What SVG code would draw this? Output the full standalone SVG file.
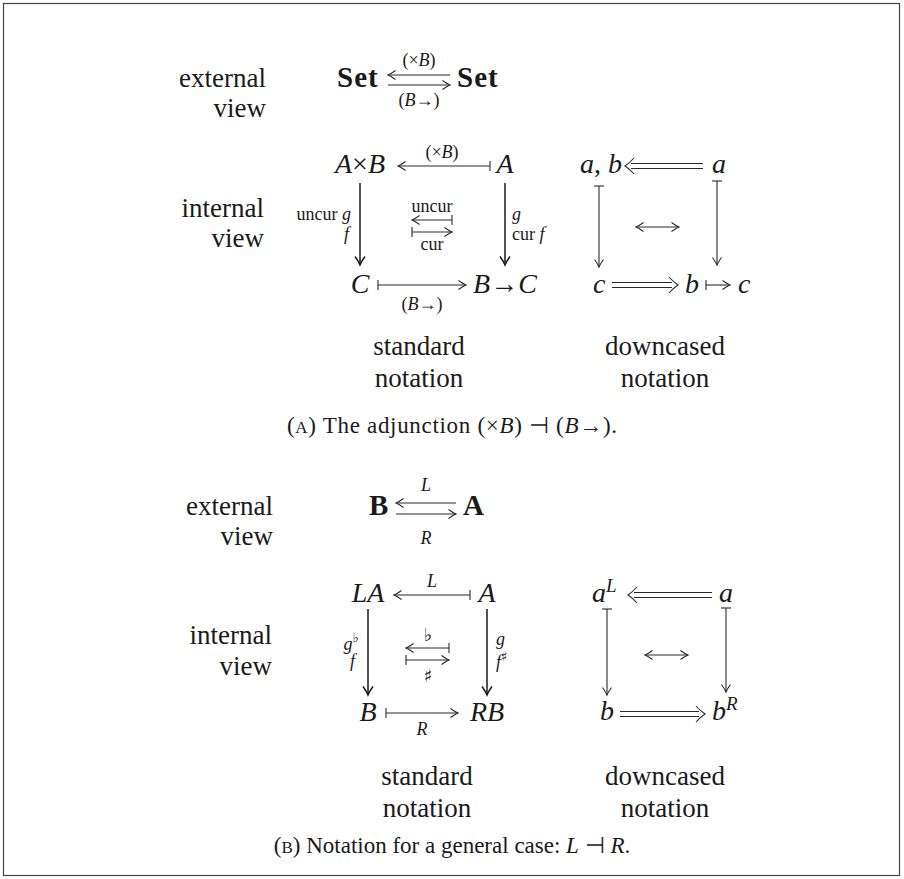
<svg xmlns="http://www.w3.org/2000/svg" width="904" height="879" viewBox="0 0 904 879">
<style>
text{font-family:"Liberation Serif","Times New Roman",serif;fill:#1a1a1a}
.t{font-size:27px}
.m{font-size:28px;font-style:italic}
.b{font-size:29px;font-weight:bold}
.s{font-size:18px}
.i{font-style:italic}
.mus{font-family:"DejaVu Sans",sans-serif;fill:#1a1a1a}
.cap{font-size:23px}
.ln{stroke:#2a2a2a;stroke-width:1.1;fill:none}
.lnb{stroke:#1a1a1a;stroke-width:1.5;fill:none}
.frame{fill:#fff;stroke:#444;stroke-width:1.2}
</style>
<defs>
<marker id="h" markerUnits="userSpaceOnUse" viewBox="-10 -7 12 14" refX="0" refY="0" markerWidth="12" markerHeight="14" orient="auto-start-reverse" overflow="visible"><path d="M-7.5,-4.5 Q-3,-1.2 0,0 Q-3,1.2 -7.5,4.5" fill="none" stroke="#2a2a2a" stroke-width="1.1"/></marker>
<marker id="hb" markerUnits="userSpaceOnUse" viewBox="-10 -7 12 14" refX="0" refY="0" markerWidth="12" markerHeight="14" orient="auto-start-reverse" overflow="visible"><path d="M-8.5,-5 Q-3.5,-1.4 0,0 Q-3.5,1.4 -8.5,5" fill="none" stroke="#1a1a1a" stroke-width="1.5"/></marker>
<marker id="bar" markerUnits="userSpaceOnUse" viewBox="-2 -7 4 14" refX="0" refY="0" markerWidth="4" markerHeight="14" orient="auto" overflow="visible"><path d="M0,-5 L0,5" stroke="#2a2a2a" stroke-width="1.1"/></marker>
</defs>
<rect class="frame" x="3.5" y="3.5" width="896" height="872"/>

<!-- ===== (A) ===== -->
<g id="a-ext-label"><text class="t" text-anchor="end" x="266" y="87">external</text><text class="t" text-anchor="end" x="266" y="117">view</text></g>
<g id="a-set1"><text class="b" x="337" y="87" letter-spacing="1">Set</text></g>
<g id="a-set2"><text class="b" x="457" y="87" letter-spacing="1">Set</text></g>
<g id="a-ext-labels"><text class="s" text-anchor="middle" x="419" y="66">(×<tspan class="i">B</tspan>)</text><text class="s" text-anchor="middle" x="419" y="106">(<tspan class="i">B</tspan>→)</text></g>

<g id="a-int-label"><text class="t" text-anchor="end" x="264" y="217">internal</text><text class="t" text-anchor="end" x="264" y="247">view</text></g>
<g id="a-AxB"><text class="m" text-anchor="middle" x="360" y="173">A<tspan font-style="normal">×</tspan>B</text></g>
<g id="a-A"><text class="m" text-anchor="middle" x="505" y="173">A</text></g>
<g id="a-C"><text class="m" text-anchor="middle" x="360" y="293">C</text></g>
<g id="a-BtoC"><text class="m" text-anchor="middle" x="505" y="293">B<tspan font-style="normal">→</tspan>C</text></g>
<g id="a-labels">
<text class="s" text-anchor="middle" x="442" y="158">(×<tspan class="i">B</tspan>)</text>
<text class="s" text-anchor="end" x="351" y="220">uncur <tspan class="i">g</tspan></text>
<text class="s i" text-anchor="end" x="349" y="240">f</text>
<text class="s i" x="512" y="220">g</text>
<text class="s" x="512" y="240">cur <tspan class="i">f</tspan></text>
<text class="s" text-anchor="middle" x="432" y="212">uncur</text>
<text class="s" text-anchor="middle" x="432" y="250">cur</text>
<text class="s" text-anchor="middle" x="422" y="310">(<tspan class="i">B</tspan>→)</text>
</g>
<g id="a-std-caption"><text class="t" text-anchor="middle" x="419" y="355">standard</text><text class="t" text-anchor="middle" x="419" y="387">notation</text></g>

<g id="a-ab"><text class="m" x="580" y="173">a<tspan font-style="normal">,</tspan> b</text></g>
<g id="a-a"><text class="m" x="712" y="173">a</text></g>
<g id="a-c"><text class="m" x="593" y="293">c</text></g>
<g id="a-bmc"><text class="m" y="293"><tspan x="685">b</tspan><tspan x="738">c</tspan></text></g>
<g id="a-dc-caption"><text class="t" text-anchor="middle" x="665" y="355">downcased</text><text class="t" text-anchor="middle" x="665" y="387">notation</text></g>

<g id="a-caption"><text class="cap" text-anchor="middle" x="452" y="433" textLength="330">(<tspan font-size="17">A</tspan>) The adjunction (×<tspan class="i">B</tspan>) ⊣ (<tspan class="i">B</tspan>→).</text></g>

<!-- ===== (B) ===== -->
<g id="b-ext-label"><text class="t" text-anchor="end" x="273" y="515">external</text><text class="t" text-anchor="end" x="273" y="545">view</text></g>
<g id="b-B"><text class="b" x="369" y="515">B</text></g>
<g id="b-A"><text class="b" x="463" y="515">A</text></g>
<g id="b-ext-labels"><text class="s i" text-anchor="middle" x="426" y="491">L</text><text class="s i" text-anchor="middle" x="426" y="544">R</text></g>

<g id="b-int-label"><text class="t" text-anchor="end" x="272" y="644">internal</text><text class="t" text-anchor="end" x="272" y="675">view</text></g>
<g id="b-LA"><text class="m" text-anchor="middle" x="368" y="602">LA</text></g>
<g id="b-A2"><text class="m" text-anchor="middle" x="487" y="602">A</text></g>
<g id="b-B2"><text class="m" text-anchor="middle" x="368" y="721">B</text></g>
<g id="b-RB"><text class="m" text-anchor="middle" x="487" y="721">RB</text></g>
<g id="b-labels">
<text class="s i" text-anchor="middle" x="432" y="587">L</text>
<text class="s" text-anchor="end" x="359" y="650"><tspan class="i">g</tspan><tspan class="mus" font-size="14" dy="-8">♭</tspan></text>
<text class="s i" text-anchor="end" x="355" y="667">f</text>
<text class="s i" x="496" y="645">g</text>
<text class="s" x="496" y="668"><tspan class="i">f</tspan><tspan class="mus" font-size="13" dy="-7">♯</tspan></text>
<text class="mus" text-anchor="middle" x="428" y="641" font-size="18">♭</text>
<text class="mus" text-anchor="middle" x="428" y="682" font-size="18">♯</text>
<text class="s i" text-anchor="middle" x="422" y="735">R</text>
</g>
<g id="b-std-caption"><text class="t" text-anchor="middle" x="427" y="785">standard</text><text class="t" text-anchor="middle" x="427" y="817">notation</text></g>

<g id="b-aL"><text class="m" x="592" y="602">a<tspan font-size="19" dy="-10">L</tspan></text></g>
<g id="b-a"><text class="m" x="719" y="602">a</text></g>
<g id="b-b"><text class="m" x="600" y="720">b</text></g>
<g id="b-bR"><text class="m" x="712" y="720">b<tspan font-size="19" dy="-10">R</tspan></text></g>
<g id="b-dc-caption"><text class="t" text-anchor="middle" x="665" y="785">downcased</text><text class="t" text-anchor="middle" x="665" y="817">notation</text></g>

<g id="b-caption"><text class="cap" text-anchor="middle" x="452" y="853">(<tspan font-size="17">B</tspan>) Notation for a general case: <tspan class="i">L</tspan> ⊣ <tspan class="i">R</tspan>.</text></g>

<!-- ===== connectors ===== -->
<g id="connectors">
<!-- A external -->
<line class="ln" x1="450" y1="75" x2="388" y2="75" marker-end="url(#h)"/>
<line class="ln" x1="388" y1="85" x2="450" y2="85" marker-end="url(#h)"/>
<!-- A standard -->
<line class="ln" x1="490" y1="166" x2="398" y2="166" marker-start="url(#bar)" marker-end="url(#h)"/>
<line class="lnb" x1="360" y1="183" x2="360" y2="265" marker-end="url(#hb)"/>
<line class="lnb" x1="505" y1="183" x2="505" y2="265" marker-end="url(#hb)"/>
<line class="ln" x1="452" y1="220" x2="412" y2="220" marker-start="url(#bar)" marker-end="url(#h)"/>
<line class="ln" x1="412" y1="232" x2="452" y2="232" marker-start="url(#bar)" marker-end="url(#h)"/>
<line class="ln" x1="378" y1="285" x2="466" y2="285" marker-start="url(#bar)" marker-end="url(#h)"/>
<!-- A downcased -->
<path class="ln" d="M703,163.5 H631 M703,168.5 H631 M634,158 Q629,163.5 625,166 Q629,168.5 634,174"/>
<line class="ln" x1="599" y1="186" x2="599" y2="267" marker-start="url(#bar)" marker-end="url(#h)"/>
<line class="ln" x1="717" y1="181" x2="717" y2="265" marker-start="url(#bar)" marker-end="url(#h)"/>
<line class="ln" x1="636" y1="227" x2="679" y2="227" marker-start="url(#h)" marker-end="url(#h)"/>
<path class="ln" d="M612,282.5 H672 M612,287.5 H672 M669,277 Q674,282.5 678,285 Q674,287.5 669,293"/>
<line class="ln" x1="706" y1="285" x2="730" y2="285" marker-start="url(#bar)" marker-end="url(#h)"/>
<!-- B external -->
<line class="ln" x1="456" y1="503" x2="396" y2="503" marker-end="url(#h)"/>
<line class="ln" x1="396" y1="514" x2="456" y2="514" marker-end="url(#h)"/>
<!-- B standard -->
<line class="ln" x1="470" y1="595" x2="394" y2="595" marker-start="url(#bar)" marker-end="url(#h)"/>
<line class="lnb" x1="368" y1="609" x2="368" y2="695" marker-end="url(#hb)"/>
<line class="lnb" x1="487" y1="609" x2="487" y2="695" marker-end="url(#hb)"/>
<line class="ln" x1="449" y1="648" x2="406" y2="648" marker-start="url(#bar)" marker-end="url(#h)"/>
<line class="ln" x1="406" y1="660" x2="449" y2="660" marker-start="url(#bar)" marker-end="url(#h)"/>
<line class="ln" x1="386" y1="713" x2="458" y2="713" marker-start="url(#bar)" marker-end="url(#h)"/>
<!-- B downcased -->
<path class="ln" d="M712,592.5 H634 M712,597.5 H634 M637,587 Q632,592.5 628,595 Q632,597.5 637,603"/>
<line class="ln" x1="607" y1="609" x2="607" y2="695" marker-start="url(#bar)" marker-end="url(#h)"/>
<line class="ln" x1="726" y1="608" x2="726" y2="692" marker-start="url(#bar)" marker-end="url(#h)"/>
<line class="ln" x1="645" y1="655" x2="688" y2="655" marker-start="url(#h)" marker-end="url(#h)"/>
<path class="ln" d="M620,711.5 H699 M620,716.5 H699 M696,706 Q701,711.5 705,714 Q701,716.5 696,722"/>
</g>
</svg>
